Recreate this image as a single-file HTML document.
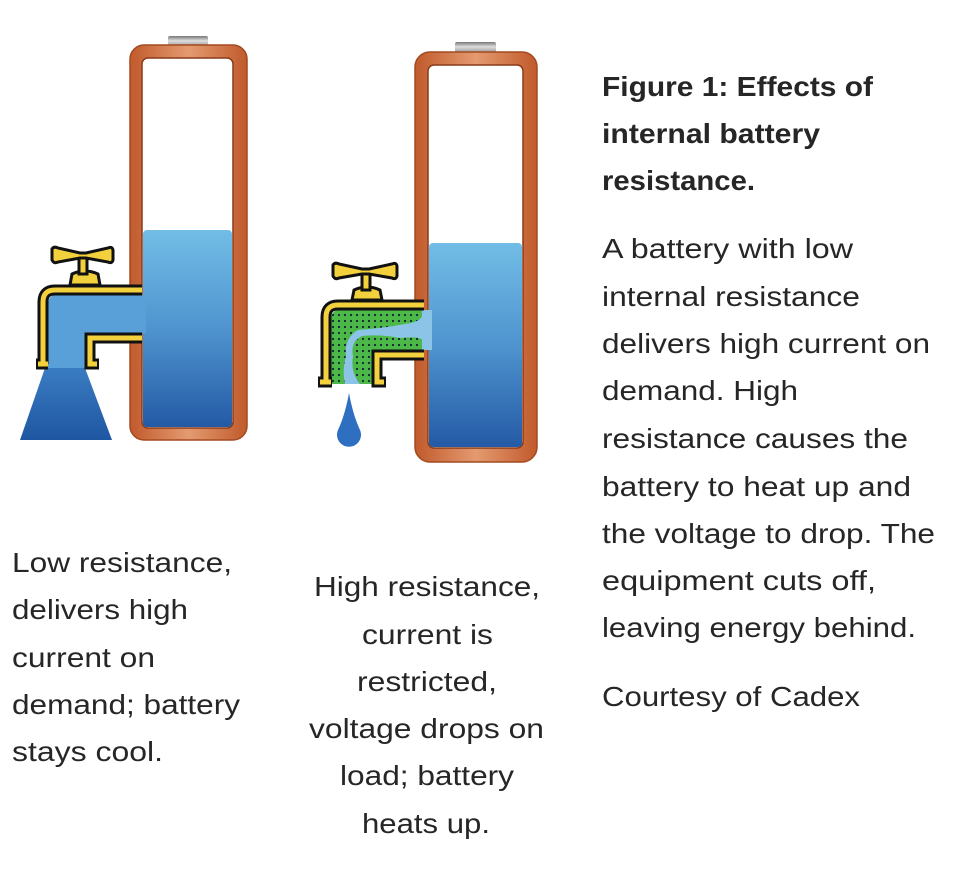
<!DOCTYPE html>
<html><head><meta charset="utf-8"><style>
html,body{margin:0;padding:0;background:#fff;}
svg{display:block}
text{font-family:"Liberation Sans",Arial,sans-serif;fill:#262626;font-size:28px}
.b{font-weight:bold}
</style></head><body>
<svg width="960" height="895" viewBox="0 0 960 895" xmlns="http://www.w3.org/2000/svg">
<defs>
<linearGradient id="w" x1="0" y1="0" x2="0" y2="1"><stop offset="0" stop-color="#72bde6"/><stop offset="0.5" stop-color="#4f94cf"/><stop offset="1" stop-color="#245aa5"/></linearGradient>
<linearGradient id="cone" x1="0" y1="0" x2="0" y2="1"><stop offset="0" stop-color="#3a7cc2"/><stop offset="1" stop-color="#1f56a2"/></linearGradient>
<linearGradient id="cap" x1="0" y1="0" x2="0" y2="1"><stop offset="0" stop-color="#777"/><stop offset="0.4" stop-color="#ddd"/><stop offset="1" stop-color="#888"/></linearGradient>
<linearGradient id="cu" x1="0" y1="0" x2="1" y2="0"><stop offset="0" stop-color="#c05a2c"/><stop offset="0.5" stop-color="#e49a70"/><stop offset="1" stop-color="#c05a2c"/></linearGradient>
<pattern id="dots" width="6" height="6" patternUnits="userSpaceOnUse"><rect width="6" height="6" fill="#4cb848"/><circle cx="3" cy="3" r="1.1" fill="#123"/></pattern>
</defs>

<rect x="168" y="36" width="40" height="12" rx="2" fill="url(#cap)"/>
<rect x="130" y="45" width="117" height="395" rx="14" fill="url(#cu)" stroke="#a44a20" stroke-width="1.5"/>
<rect x="142" y="58" width="91" height="370" rx="6" fill="#fff" stroke="#8a3a18" stroke-width="1.5"/>
<rect x="143" y="230" width="89" height="197" rx="4" fill="url(#w)"/>
<path d="M146,295 L56,295 Q48,295 48,305 L48,368 L85,368 L85,333 L146,333 Z" fill="#5aa0d8"/>
<polygon points="45,368 85,368 112,440 20,440" fill="url(#cone)"/>
<g fill="none" stroke-linejoin="miter">
<path d="M142,290 L55,290 Q43,290 43,302 L43,364 M36,364 L48,364" stroke="#111" stroke-width="11"/>
<path d="M142,290 L55,290 Q43,290 43,302 L43,364 M38,364 L48,364" stroke="#f2d13c" stroke-width="5"/>
<path d="M142,338 L90,338 L90,364 L99,364" stroke="#111" stroke-width="11"/>
<path d="M142,338 L90,338 L90,364 L97,364" stroke="#f2d13c" stroke-width="5"/>
</g>
<path d="M70,285 L72,274 Q85,268 98,274 L100,285 Z" fill="#f2d13c" stroke="#111" stroke-width="3"/>
<rect x="79" y="255" width="8" height="19" fill="#f2d13c" stroke="#111" stroke-width="3"/>
<path d="M52,249 Q54,246 58,248 L80,253 L86,253 L108,248 Q112,246 113,250 L113,260 Q112,264 108,262 L86,258 L80,258 L58,262 Q54,264 52,260 Z" fill="#f2d13c" stroke="#111" stroke-width="3"/>

<rect x="455" y="42" width="41" height="12" rx="2" fill="url(#cap)"/>
<rect x="415" y="52" width="122" height="410" rx="15" fill="url(#cu)" stroke="#a44a20" stroke-width="1.5"/>
<rect x="428" y="65" width="95" height="383" rx="6" fill="#fff" stroke="#8a3a18" stroke-width="1.5"/>
<rect x="429" y="243" width="93" height="204" rx="4" fill="url(#w)"/>
<path d="M432,310 L340,310 Q331,310 331,320 L331,384 L372,384 L372,350 L432,350 Z" fill="#8cc4e8"/>
<path d="M422,310 L340,310 Q331,310 331,320 L331,384 L345,384 Q342,370 346,356 Q344,338 358,330 Q385,328 405,324 Q420,322 422,316 Z" fill="url(#dots)"/>
<path d="M422,350 L372,350 L372,384 L360,384 Q350,372 353,356 Q350,342 362,336 Q380,334 400,338 Q420,336 422,340 Z" fill="url(#dots)"/>
<g fill="none">
<path d="M424,305 L338,305 Q326,305 326,317 L326,382 M318,382 L332,382" stroke="#111" stroke-width="11"/>
<path d="M424,305 L338,305 Q326,305 326,317 L326,382 M320,382 L331,382" stroke="#f2d13c" stroke-width="5"/>
<path d="M424,355 L377,355 L377,382 L386,382" stroke="#111" stroke-width="11"/>
<path d="M424,355 L377,355 L377,382 L384,382" stroke="#f2d13c" stroke-width="5"/>
</g>
<path d="M352,300 L354,290 Q367,284 380,290 L382,300 Z" fill="#f2d13c" stroke="#111" stroke-width="3"/>
<rect x="362" y="270" width="8" height="20" fill="#f2d13c" stroke="#111" stroke-width="3"/>
<path d="M333,265 Q335,262 339,264 L362,269 L369,269 L392,264 Q396,262 397,266 L397,276 Q396,280 392,278 L369,274 L362,274 L339,278 Q335,280 333,276 Z" fill="#f2d13c" stroke="#111" stroke-width="3"/>
<path d="M349,393 Q353,415 360,430 A12,12 0 1 1 338,430 Q345,415 349,393 Z" fill="#2f6fc0"/>

<text class="b" x="602" y="96" textLength="271" lengthAdjust="spacingAndGlyphs">Figure 1: Effects of</text>
<text class="b" x="602" y="143" textLength="218" lengthAdjust="spacingAndGlyphs">internal battery</text>
<text class="b" x="602" y="190" textLength="153" lengthAdjust="spacingAndGlyphs">resistance.</text>
<text x="602" y="258" textLength="251" lengthAdjust="spacingAndGlyphs">A battery with low</text>
<text x="602" y="306" textLength="258" lengthAdjust="spacingAndGlyphs">internal resistance</text>
<text x="602" y="353" textLength="328" lengthAdjust="spacingAndGlyphs">delivers high current on</text>
<text x="602" y="400" textLength="196" lengthAdjust="spacingAndGlyphs">demand. High</text>
<text x="602" y="448" textLength="306" lengthAdjust="spacingAndGlyphs">resistance causes the</text>
<text x="602" y="496" textLength="309" lengthAdjust="spacingAndGlyphs">battery to heat up and</text>
<text x="602" y="543" textLength="333" lengthAdjust="spacingAndGlyphs">the voltage to drop. The</text>
<text x="602" y="590" textLength="274" lengthAdjust="spacingAndGlyphs">equipment cuts off,</text>
<text x="602" y="637" textLength="314" lengthAdjust="spacingAndGlyphs">leaving energy behind.</text>
<text x="602" y="706" textLength="258" lengthAdjust="spacingAndGlyphs">Courtesy of Cadex</text>

<text x="12" y="572" textLength="220" lengthAdjust="spacingAndGlyphs">Low resistance,</text>
<text x="12" y="619" textLength="176" lengthAdjust="spacingAndGlyphs">delivers high</text>
<text x="12" y="667" textLength="143" lengthAdjust="spacingAndGlyphs">current on</text>
<text x="12" y="714" textLength="228" lengthAdjust="spacingAndGlyphs">demand; battery</text>
<text x="12" y="761" textLength="151" lengthAdjust="spacingAndGlyphs">stays cool.</text>

<text x="314" y="596" textLength="226" lengthAdjust="spacingAndGlyphs">High resistance,</text>
<text x="362" y="644" textLength="131" lengthAdjust="spacingAndGlyphs">current is</text>
<text x="357" y="691" textLength="140" lengthAdjust="spacingAndGlyphs">restricted,</text>
<text x="309" y="738" textLength="235" lengthAdjust="spacingAndGlyphs">voltage drops on</text>
<text x="340" y="785" textLength="174" lengthAdjust="spacingAndGlyphs">load; battery</text>
<text x="362" y="833" textLength="128" lengthAdjust="spacingAndGlyphs">heats up.</text>
</svg>
</body></html>
